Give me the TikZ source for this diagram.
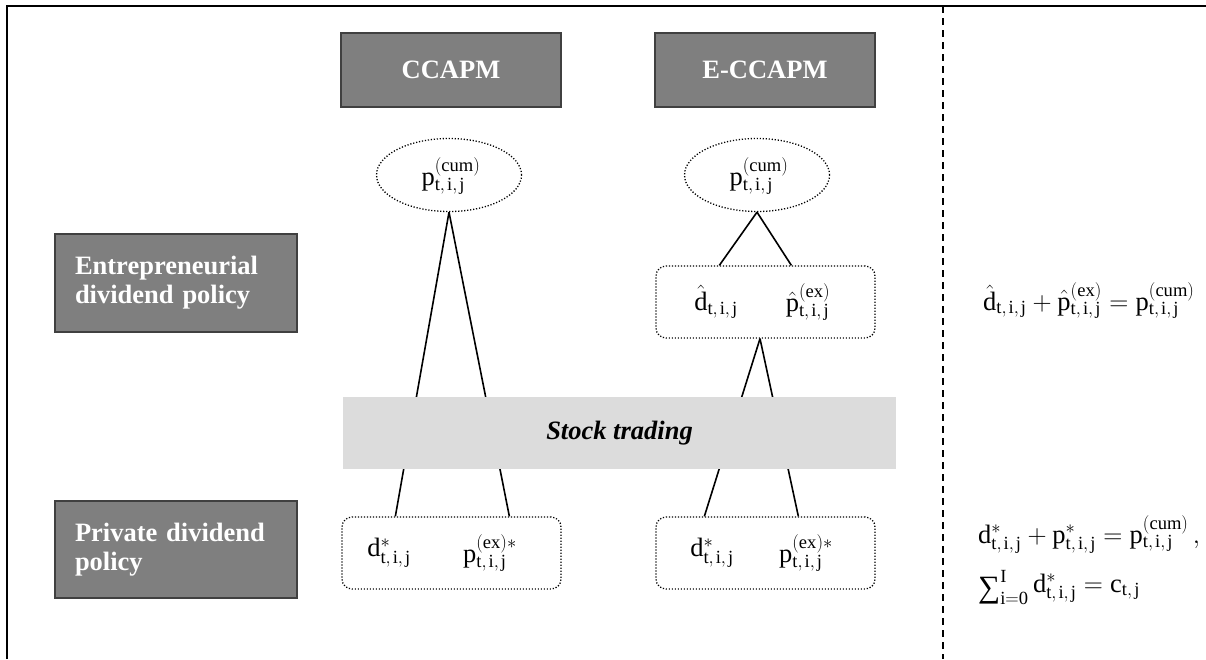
\RequirePackage{fix-cm}
\documentclass[tikz,border=0pt]{standalone}
\usepackage{fontspec}
\setmainfont{Liberation Serif}
\usetikzlibrary{shapes.geometric}
\definecolor{boxgray}{HTML}{7F7F7F}
\definecolor{boxborder}{HTML}{404040}
\definecolor{tradegray}{HTML}{DCDCDC}
\newcommand\myfs{\fontsize{26.5}{29}\selectfont}
\newcommand\tij{\mathrm{t,\mkern2mu i,\mkern2mu j}}
\newcommand\mysum{\mathop{\lower5pt\hbox{\fontsize{31}{31}\selectfont ∑}}\nolimits}
\begin{document}
\begin{tikzpicture}[x=1pt,y=-1pt,
  graybox/.style={draw=boxborder, line width=1.8pt, fill=boxgray, text=white, font=\myfs\bfseries, inner sep=0pt},
  sidebox/.style={graybox, minimum width=242pt, text width=202pt, align=left, inner xsep=20pt},
  dotbox/.style={draw, line width=1.3pt, dash pattern=on 1.2pt off 1.8pt, rounded corners=10pt, minimum width=219pt, minimum height=72pt, inner sep=0pt},
  dotell/.style={ellipse, draw, line width=1.3pt, dash pattern=on 1.2pt off 1.8pt, minimum width=145pt, minimum height=73pt, inner sep=0pt},
  conn/.style={line width=1.6pt},
  mtext/.style={font=\myfs, inner sep=0pt}]
\useasboundingbox (0,0) rectangle (1206,659);
% frame
\draw[line width=2.2pt] (7,659) -- (7,6) -- (1206,6);
\draw[line width=1.8pt, dash pattern=on 7pt off 5pt] (943,6) -- (943,659);
% headers
\node[graybox, minimum width=220pt, minimum height=74pt] (cc) at (451,70) {CCAPM};
\node[graybox, minimum width=220pt, minimum height=74pt] (ecc) at (765,70) {E-CCAPM};
\node[sidebox, minimum height=98pt] (ent) at (176,283) {Entrepreneurial\\dividend policy};
\node[sidebox, minimum height=97pt] (priv) at (176,549.5) {Private dividend\\policy};
% ellipses
\node[dotell] (e1) at (449,175) {};
\node[mtext] (e1t) at (451,176) {$\mathrm{p}^{\mathrm{(cum)}}_{\tij}$};
\node[dotell] (e2) at (757,175) {};
\node[mtext] (e2t) at (759,176) {$\mathrm{p}^{\mathrm{(cum)}}_{\tij}$};
% dotted boxes
\node[dotbox] (hb) at (765.5,302) {};
\node[mtext] (hd) at (716,302) {$\hat{\mathrm{d}}_{\tij}$};
\node[mtext] (hp) at (808,302) {$\hat{\mathrm{p}}^{\mathrm{(ex)}}_{\tij}$};
\node[dotbox] (bl) at (451.5,553) {};
\node[mtext] (bld) at (389,553) {$\mathrm{d}^{*}_{\tij}$};
\node[mtext] (blp) at (490,553) {$\mathrm{p}^{\mathrm{(ex)}*}_{\tij}$};
\node[dotbox] (br) at (765.5,553) {};
\node[mtext] (brd) at (712,553) {$\mathrm{d}^{*}_{\tij}$};
\node[mtext] (brp) at (806,553) {$\mathrm{p}^{\mathrm{(ex)}*}_{\tij}$};
% connectors
\draw[conn] (e1.south) -- ([xshift=54pt]bl.north west);
\draw[conn] (e1.south) -- ([xshift=168pt]bl.north west);
\draw[conn] (e2.south) -- ([xshift=64pt]hb.north west);
\draw[conn] (e2.south) -- ([xshift=136pt]hb.north west);
\draw[conn] ([xshift=-5.5pt]hb.south) -- ([xshift=49pt]br.north west);
\draw[conn] ([xshift=-5.5pt]hb.south) -- ([xshift=143pt]br.north west);
% stock trading
\node[fill=tradegray, minimum width=553pt, minimum height=72pt, inner sep=0pt, font=\myfs\bfseries\itshape] (st) at (619.5,433) {Stock trading};
% equations
\node[mtext, anchor=base west] (eq1) at (983,310) {$\hat{\mathrm{d}}_{\tij}+\hat{\mathrm{p}}^{\mathrm{(ex)}}_{\tij}=\mathrm{p}^{\mathrm{(cum)}}_{\tij}$};
\node[mtext, anchor=base west] (eq2) at (978,543) {$\mathrm{d}^{*}_{\tij}+\mathrm{p}^{*}_{\tij}=\mathrm{p}^{\mathrm{(cum)}}_{\tij}\,,$};
\node[mtext, anchor=base west] (eq3) at (978,592) {$\mysum_{\mathrm{i=0}}^{\mathrm{I}}\mathrm{d}^{*}_{\tij}=\mathrm{c}_{\mathrm{t,\mkern2mu j}}$};
\end{tikzpicture}
\end{document}
